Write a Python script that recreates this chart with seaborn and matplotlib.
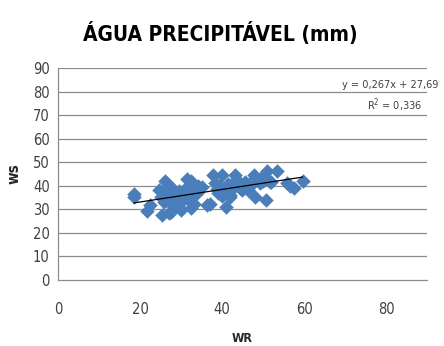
import matplotlib
matplotlib.use("Agg")
import matplotlib.pyplot as plt
import seaborn as sns
import numpy as np
import pandas as pd

# Data
wr = [18.5, 18.6, 21.7, 22.5, 25.4, 24.7, 26.1, 27.1, 27.6, 26.5, 27.8, 30.1, 30.9,
      31.3, 31.5, 32.5, 32.4, 33.2, 34.2, 36.4, 37.0, 37.7, 38.2, 40.1, 40.0, 41.0,
      41.9, 43.2, 43.6, 44.8, 46.4, 47.3, 48.0, 47.7, 50.0, 50.7, 50.9, 51.7, 53.3,
      55.8, 56.6, 57.6, 59.7,
      25.0, 25.8, 26.8, 28.5, 29.0, 29.5, 30.5, 31.8, 32.8, 33.8, 35.0, 38.8, 39.5,
      40.5, 41.5, 42.3, 42.8, 44.0, 45.5, 46.8, 48.5, 49.2, 49.8, 52.0, 29.2, 28.0,
      32.0, 39.0, 42.0, 44.3, 27.3, 30.3]
ws = [36.3, 35.0, 29.2, 31.7, 27.5, 38.0, 42.0, 28.3, 28.8, 36.8, 38.8, 29.7, 35.4,
      39.0, 43.0, 42.0, 30.5, 32.0, 40.0, 31.7, 32.0, 44.6, 41.0, 44.6, 35.5, 31.0,
      35.0, 44.6, 42.5, 38.0, 38.0, 42.0, 35.0, 44.6, 42.0, 33.8, 46.0, 41.5, 46.4,
      41.0, 39.7, 39.0, 42.0,
      35.0, 33.0, 39.5, 36.0, 33.5, 37.5, 34.0, 38.0, 36.5, 37.0, 39.5, 38.5, 40.0,
      37.5, 40.5, 38.0, 41.0, 40.0, 41.5, 40.0, 43.0, 41.0, 43.5, 41.5, 31.5, 34.5,
      34.0, 37.0, 36.0, 39.0, 32.5, 37.0]

trend_slope = 0.267
trend_intercept = 27.69
title = "ÁGUA PRECIPITÁVEL (mm)"
x_ticks = [0, 20, 40, 60, 80]
y_ticks = [0, 10, 20, 30, 40, 50, 60, 70, 80, 90]

df = pd.DataFrame({"WR": wr, "ws": ws})

sns.set_style("white")
plt.rcParams['font.family'] = ['DejaVu Sans']
plt.rcParams['font.stretch'] = 'condensed'

fig = plt.figure(figsize=(4.44, 3.46), dpi=100)
ax = fig.add_axes([58/444, 66.3/346, (427-58)/444, (279.7-68)/346])

for yv in y_ticks[1:]:
    ax.axhline(yv, color="#8c8c8c", lw=0.9, zorder=0)

sns.scatterplot(data=df, x="WR", y="ws", marker="D", s=50, color="#4a7ebb",
                edgecolor="#4a7ebb", linewidth=0.3, ax=ax, zorder=3, legend=False)

xl = np.array([min(wr), max(wr)])
ax.plot(xl, trend_slope * xl + trend_intercept, color="black", lw=0.9, zorder=4)

ax.set_xlim(0, 90)
ax.set_ylim(0, 90)
ax.set_xticks(x_ticks)
ax.set_yticks(y_ticks)
ax.tick_params(axis="both", labelsize=10.5, colors="#404040", length=4, width=0.8,
               direction="out")
ax.tick_params(axis="x", colors="#8c8c8c", labelcolor="#404040", pad=12)
ax.tick_params(axis="y", colors="#8c8c8c", labelcolor="#404040", pad=2)
for lab in ax.get_xticklabels() + ax.get_yticklabels():
    lab.set_fontstretch("condensed")
for s in ["top", "right"]:
    ax.spines[s].set_visible(False)
for s in ["left", "bottom"]:
    ax.spines[s].set_color("#8c8c8c")
    ax.spines[s].set_linewidth(0.9)

ax.set_xlabel("WR", fontsize=9, fontweight="bold", labelpad=11)
ax.set_ylabel("ws", fontsize=11, fontweight="bold", labelpad=8)

fig.text(0.497, 1 - 33/346, title, ha="center", va="center", fontsize=15,
         fontweight="bold", fontstretch="condensed", color="black")

fig.text(438/444, 1 - 85/346, "y = 0,267x + 27,69", ha="right", va="center",
         fontsize=7.8, color="#404040", fontstretch="condensed")
fig.text(422/444, 1 - 105/346, "R$^2$ = 0,336", ha="right", va="center",
         fontsize=7.8, color="#404040", fontstretch="condensed")

fig.savefig("out.png", dpi=100)
